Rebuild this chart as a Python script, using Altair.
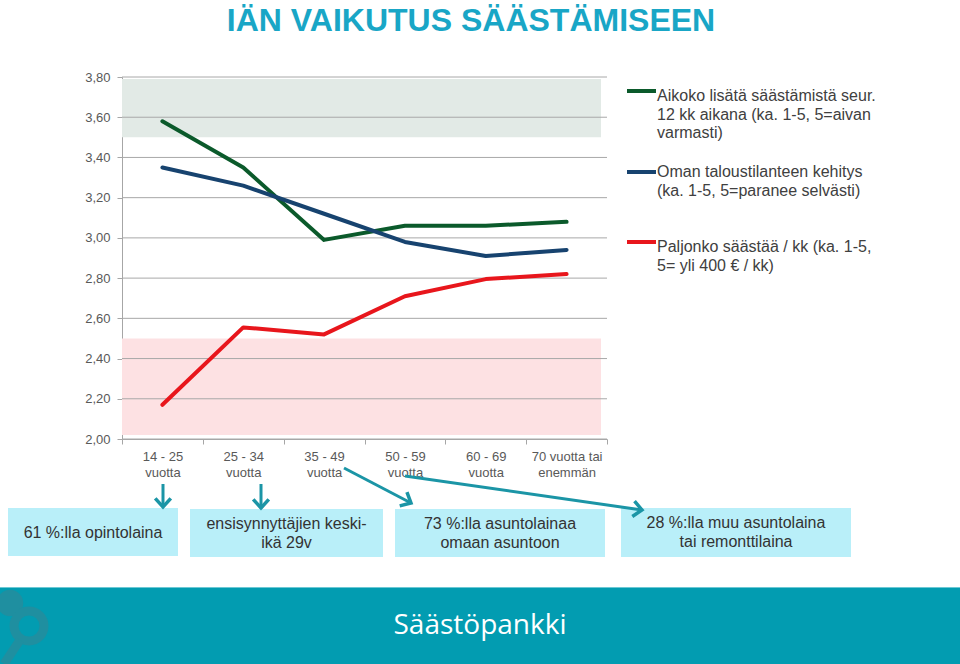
import math
import altair as alt
import pandas as pd

# ---------------- data ----------------
categories = ["14 - 25|vuotta", "25 - 34|vuotta", "35 - 49|vuotta",
              "50 - 59|vuotta", "60 - 69|vuotta", "70 vuotta tai|enemmän"]
series_names = ["Aikoko lisätä säästämistä", "Oman taloustilanteen kehitys", "Paljonko säästää / kk"]
aikoo_lisata = [3.58, 3.35, 2.99, 3.06, 3.06, 3.08]
talous_kehitys = [3.35, 3.26, 3.12, 2.98, 2.91, 2.94]
paljonko_saastaa = [2.17, 2.555, 2.52, 2.71, 2.795, 2.82]
series_colors = ["#0b5a2b", "#17436f", "#e8161c"]
y_ticks = [2.0, 2.2, 2.4, 2.6, 2.8, 3.0, 3.2, 3.4, 3.6, 3.8]
band_high = [3.50, 3.79]
band_low = [2.02, 2.50]

legend_texts = [
    ["Aikoko lisätä säästämistä seur.", "12 kk aikana  (ka. 1-5, 5=aivan", "varmasti)"],
    ["Oman taloustilanteen kehitys", "(ka. 1-5, 5=paranee selvästi)"],
    ["Paljonko säästää / kk (ka. 1-5,", "5= yli 400 € / kk)"],
]
box_texts = [
    ["61 %:lla opintolaina"],
    ["ensisynnyttäjien keski-", "ikä 29v"],
    ["73 %:lla asuntolainaa", "omaan asuntoon"],
    ["28 %:lla muu asuntolaina", "tai remonttilaina"],
]
title_text = "IÄN VAIKUTUS SÄÄSTÄMISEEN"
brand_text = "Säästöpankki"

# ---------------- layout helpers ----------------
L, T, W, H = 122, 77, 485, 362
px = lambda x: x - L
py = lambda y: y - T
FONT = "Liberation Sans"

rows = []
for name, vals in zip(series_names, [aikoo_lisata, talous_kehitys, paljonko_saastaa]):
    for c, v in zip(categories, vals):
        rows.append({"cat": c, "value": v, "series": name})
df = pd.DataFrame(rows)
one = pd.DataFrame({"d": [0]})

x_enc = alt.X("cat:N", sort=categories, bandPosition=0.5,
              scale=alt.Scale(type="band", paddingInner=0, paddingOuter=0),
              axis=alt.Axis(title=None,
                            labelExpr="isString(datum.value) ? split(datum.value, '|') : ''",
                            labelAngle=0,
                            tickBand="extent", grid=False, labelFont=FONT, labelFontSize=13,
                            labelColor="#595959", labelLineHeight=16, labelPadding=6,
                            tickSize=5, tickColor="#a6a6a6", domainColor="#a6a6a6"))
y_scale = alt.Scale(domain=[2.0, 3.8], nice=False, zero=False)
y_enc = alt.Y("value:Q", scale=y_scale,
              axis=alt.Axis(title=None, values=y_ticks, grid=False,
                            labelExpr="replace(format(datum.value, '.2f'), '.', ',')",
                            labelFont=FONT, labelFontSize=13, labelColor="#595959",
                            tickSize=5, labelPadding=7, tickColor="#a6a6a6",
                            domainColor="#a6a6a6"))

bands = pd.DataFrame({"lo": [band_high[0], band_low[0]], "hi": [band_high[1], band_low[1]],
                      "kind": ["high", "low"]})
band_layer = alt.Chart(bands).mark_rect().encode(
    x=alt.value(0), x2=alt.value(px(601)),
    y=alt.Y("lo:Q", scale=y_scale), y2="hi:Q",
    fill=alt.Fill("kind:N", scale=alt.Scale(domain=["high", "low"], range=["#e2eae6", "#fde1e3"]),
                  legend=None),
)

grid_layer = alt.Chart(pd.DataFrame({"value": y_ticks})).mark_rule(
    color="#a8a8a8", strokeWidth=1).encode(
    y=alt.Y("value:Q", scale=y_scale), x=alt.value(0), x2=alt.value(W))

lines = alt.Chart(df).mark_line(strokeWidth=4, strokeCap="round", strokeJoin="round").encode(
    x=x_enc, y=y_enc,
    color=alt.Color("series:N", scale=alt.Scale(domain=series_names, range=series_colors), legend=None),
)

layers = [band_layer, grid_layer, lines]

# title
layers.append(alt.Chart(one).mark_text(
    text=title_text, font=FONT, fontSize=32, fontWeight="bold", color="#19a6c6",
    align="center", baseline="alphabetic").encode(x=alt.value(px(471)), y=alt.value(py(31))))

# legend
leg_line_y = [91, 172, 242]
leg_base_y = [101, 177, 252]
for col, ly, by, txt in zip(series_colors, leg_line_y, leg_base_y, legend_texts):
    layers.append(alt.Chart(one).mark_rule(color=col, strokeWidth=4).encode(
        x=alt.value(px(627)), x2=alt.value(px(656)), y=alt.value(py(ly)), y2=alt.value(py(ly))))
    layers.append(alt.Chart(one).mark_text(
        text=txt, font=FONT, fontSize=16, color="#404040", align="left", baseline="alphabetic",
        lineHeight=18.5).encode(x=alt.value(px(657)), y=alt.value(py(by))))

# boxes
box_geom = [(8, 178, 508, 556), (190, 383, 509, 557), (395, 605, 509, 557), (621, 851, 508, 557)]
box_base = [538, 529, 529, 528]
for (x1, x2, y1, y2), by, txt in zip(box_geom, box_base, box_texts):
    layers.append(alt.Chart(one).mark_rect(color="#b9eff9").encode(
        x=alt.value(px(x1)), x2=alt.value(px(x2)), y=alt.value(py(y1)), y2=alt.value(py(y2))))
    layers.append(alt.Chart(one).mark_text(
        text=txt, font=FONT, fontSize=16, color="#333333", align="center", baseline="alphabetic",
        lineHeight=19).encode(x=alt.value(px((x1 + x2) / 2)), y=alt.value(py(by))))

# arrows
arrows = [(163, 484, 163, 507), (261, 484, 261, 508), (344, 468, 411, 503), (405, 476, 642, 510)]
arr = pd.DataFrame([{"x1": px(a), "y1": py(b), "x2": px(c), "y2": py(d),
                     "ang": math.degrees(math.atan2(d - b, c - a)) % 360} for a, b, c, d in arrows])
ARROW = "#1b95a6"
layers.append(alt.Chart(arr).mark_rule(color=ARROW, strokeWidth=3).encode(
    x=alt.X("x1:Q", scale=None), y=alt.Y("y1:Q", scale=None),
    x2="x2:Q", y2="y2:Q"))
layers.append(alt.Chart(arr).mark_point(
    shape="M -1 -0.9 L 0 0 L -1 0.9", filled=False, stroke=ARROW, strokeWidth=3.5, size=300,
    opacity=1, strokeJoin="miter").encode(
    x=alt.X("x2:Q", scale=None), y=alt.Y("y2:Q", scale=None), angle=alt.Angle("ang:Q", scale=None)))

# footer
layers.append(alt.Chart(one).mark_rect(color="#029cb1").encode(
    x=alt.value(px(0)), x2=alt.value(px(960)), y=alt.value(py(587)), y2=alt.value(py(664))))
layers.append(alt.Chart(one).mark_rule(color="#6cc8d4", strokeWidth=1).encode(
    x=alt.value(px(0)), x2=alt.value(px(960)), y=alt.value(py(587.5)), y2=alt.value(py(587.5))))
# faint logo
LOGO = "#1f8fa0"
layers.append(alt.Chart(one).mark_point(shape="circle", filled=True, color=LOGO, size=700,
                                        opacity=1).encode(x=alt.value(px(10)), y=alt.value(py(603))))
layers.append(alt.Chart(one).mark_point(shape="circle", filled=False, stroke=LOGO,
                                        strokeWidth=9, size=900, opacity=1).encode(
    x=alt.value(px(29)), y=alt.value(py(626))))
layers.append(alt.Chart(one).mark_rule(color=LOGO, strokeWidth=9).encode(
    x=alt.value(px(20)), x2=alt.value(px(4)), y=alt.value(py(640)), y2=alt.value(py(664))))
layers.append(alt.Chart(one).mark_text(
    text=brand_text, font="Open Sans", fontSize=28, color="#ffffff", align="center",
    baseline="alphabetic").encode(x=alt.value(px(480)), y=alt.value(py(634))))

chart = alt.layer(*layers).resolve_scale(fill="independent").properties(
    width=W, height=H,
    autosize=alt.AutoSizeParams(type="none"),
    padding={"left": L, "top": T, "right": 960 - L - W, "bottom": 664 - T - H},
    background="white",
).configure_view(stroke=None)

chart.save("out.html", embed_options={"renderer": "svg", "actions": False})
